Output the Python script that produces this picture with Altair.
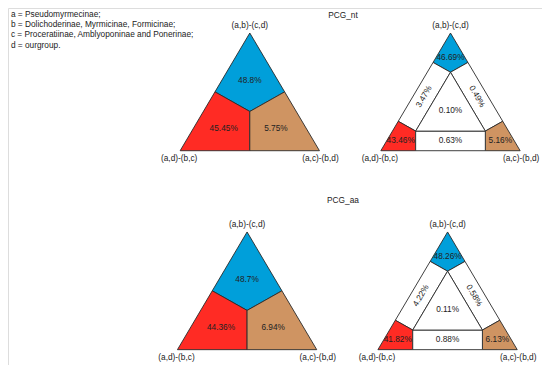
import altair as alt
import pandas as pd

# ---------------- data ----------------
legend_lines = [
    "a = Pseudomyrmecinae;",
    "b = Dolichoderinae, Myrmicinae, Formicinae;",
    "c = Proceratiinae, Amblyoponinae and Ponerinae;",
    "d = ourgroup.",
]
panel_titles = ["PCG_nt", "PCG_aa"]
vertex_labels = ["(a,b)-(c,d)", "(a,d)-(b,c)", "(a,c)-(b,d)"]  # top, left, right

# three-region maps: top, left, right
nt_three = ["48.8", "45.45", "5.75"]
aa_three = ["48.7", "44.36", "6.94"]

# seven-region maps: corners (top, left, right), sides (top-left, top-right, bottom), centre
nt_corners = ["46.69", "43.46", "5.16"]
nt_sides = ["3.47", "0.49", "0.63"]
nt_center = "0.10"
aa_corners = ["48.26", "41.82", "6.13"]
aa_sides = ["4.22", "0.58", "0.88"]
aa_center = "0.11"

corner_colors = ["#009FDA", "#FF2B24", "#CF9462"]

# ---------------- layout (reference pixel frame) ----------------
REF_W, REF_H = 550, 377
SIDE = 143.5
TRI_H = SIDE * 3 ** 0.5 / 2
panels = {  # left base vertex x, base y
    "nt3": (177.3, 150.7),
    "nt7": (384.0, 150.7),
    "aa3": (174.5, 360.8),
    "aa7": (381.0, 360.8),
}
title_pos = [(345, 8.0), (345, 204.0)]
FONT = "Liberation Sans"
TXT = "#222222"
FS = 8.3


def to_xy(panel, b):
    xl, yb = panels[panel]
    pt, pl, pr = b
    return xl + SIDE * (pr + 0.5 * pt), yb - TRI_H * pt


s = 1 / 6
three_regions = [
    [(1, 0, 0), (0.5, 0, 0.5), (1 / 3, 1 / 3, 1 / 3), (0.5, 0.5, 0)],
    [(0, 1, 0), (0.5, 0.5, 0), (1 / 3, 1 / 3, 1 / 3), (0, 0.5, 0.5)],
    [(0, 0, 1), (0, 0.5, 0.5), (1 / 3, 1 / 3, 1 / 3), (0.5, 0, 0.5)],
]
three_label_b = [(0.59, 0.205, 0.205), (0.185, 0.595, 0.22), (0.185, 0.22, 0.595)]

seven_corners = [
    [(1, 0, 0), (0.75, 0, 0.25), (1 - 2 * s, s, s), (0.75, 0.25, 0)],
    [(0, 1, 0), (0.25, 0.75, 0), (s, 1 - 2 * s, s), (0, 0.75, 0.25)],
    [(0, 0, 1), (0, 0.25, 0.75), (s, s, 1 - 2 * s), (0.25, 0, 0.75)],
]
seven_sides = [
    [(0.75, 0.25, 0), (1 - 2 * s, s, s), (s, 1 - 2 * s, s), (0.25, 0.75, 0)],
    [(0.75, 0, 0.25), (0.25, 0, 0.75), (s, s, 1 - 2 * s), (1 - 2 * s, s, s)],
    [(0, 0.75, 0.25), (0, 0.25, 0.75), (s, s, 1 - 2 * s), (s, 1 - 2 * s, s)],
]
seven_center = [(1 - 2 * s, s, s), (s, 1 - 2 * s, s), (s, s, 1 - 2 * s)]
corner_label_b = [(0.79, 0.105, 0.105), (0.085, 0.815, 0.10), (0.085, 0.10, 0.815)]
side_label_b = [(0.4585, 0.4585, 0.083), (0.4585, 0.083, 0.4585), (0.083, 0.4585, 0.4585)]
side_angles = [300, 60, 0]

poly_rows, text_rows = [], []


def add_poly(pid, panel, verts, fill):
    pts = list(verts) + [verts[0]]
    for i, b in enumerate(pts):
        x, y = to_xy(panel, b)
        poly_rows.append(dict(pid=pid, i=i, x=x, y=y, fill=fill))


def add_text(panel, b, label, angle=0):
    x, y = to_xy(panel, b)
    text_rows.append(dict(x=x, y=y, t=label, a=angle))


for key, vals in (("nt3", nt_three), ("aa3", aa_three)):
    for k in range(3):
        add_poly(f"{key}-{k}", key, three_regions[k], corner_colors[k])
        add_text(key, three_label_b[k], vals[k] + "%")

for key, corners, sides, center in (
    ("nt7", nt_corners, nt_sides, nt_center),
    ("aa7", aa_corners, aa_sides, aa_center),
):
    for k in range(3):
        add_poly(f"{key}-c{k}", key, seven_corners[k], corner_colors[k])
        add_poly(f"{key}-s{k}", key, seven_sides[k], "#FFFFFF")
        add_text(key, corner_label_b[k], corners[k] + "%")
        add_text(key, side_label_b[k], sides[k] + "%", side_angles[k])
    add_poly(f"{key}-m", key, seven_center, "#FFFFFF")
    add_text(key, (1 / 3, 1 / 3, 1 / 3), center + "%")

# vertex labels
for key in panels:
    x, y = to_xy(key, (1, 0, 0))
    text_rows.append(dict(x=x, y=y - 7.5, t=vertex_labels[0], a=0))
    x, y = to_xy(key, (0, 1, 0))
    text_rows.append(dict(x=x - 1, y=y + 8.5, t=vertex_labels[1], a=0))
    x, y = to_xy(key, (0, 0, 1))
    text_rows.append(dict(x=x + 1, y=y + 8.5, t=vertex_labels[2], a=0))

for (tx, ty), t in zip(title_pos, panel_titles):
    text_rows.append(dict(x=tx, y=ty, t=t, a=0))

legend_df = pd.DataFrame(
    dict(x=[3] * len(legend_lines), y=[7.0 + 11 * i for i in range(len(legend_lines))], t=legend_lines)
)

poly_df = pd.DataFrame(poly_rows)
text_df = pd.DataFrame(text_rows)

xs = alt.Scale(domain=[0, REF_W], nice=False, zero=False)
ys = alt.Scale(domain=[0, REF_H], nice=False, zero=False, reverse=True)

polys = (
    alt.Chart(poly_df)
    .mark_line(stroke="#2a2a2a", strokeWidth=0.9, strokeJoin="miter")
    .encode(
        x=alt.X("x:Q", scale=xs, axis=None),
        y=alt.Y("y:Q", scale=ys, axis=None),
        detail="pid:N",
        order=alt.Order("i:Q"),
        fill=alt.Fill("fill:N", scale=None),
    )
)

texts = (
    alt.Chart(text_df)
    .mark_text(font=FONT, fontSize=FS, color=TXT, baseline="middle", align="center")
    .encode(
        x=alt.X("x:Q", scale=xs, axis=None),
        y=alt.Y("y:Q", scale=ys, axis=None),
        text="t:N",
        angle=alt.Angle("a:Q", scale=None),
    )
)

legend = (
    alt.Chart(legend_df)
    .mark_text(font=FONT, fontSize=FS, color=TXT, baseline="middle", align="left")
    .encode(
        x=alt.X("x:Q", scale=xs, axis=None),
        y=alt.Y("y:Q", scale=ys, axis=None),
        text="t:N",
    )
)

chart = (
    alt.layer(polys, texts, legend)
    .properties(width=534, height=357, padding=0, autosize=alt.AutoSizeParams(type="none"))
    .configure_view(stroke="transparent", strokeWidth=0)
    .configure(background="white")
)

chart.save("out.html", embed_options={"renderer": "svg", "actions": False})
